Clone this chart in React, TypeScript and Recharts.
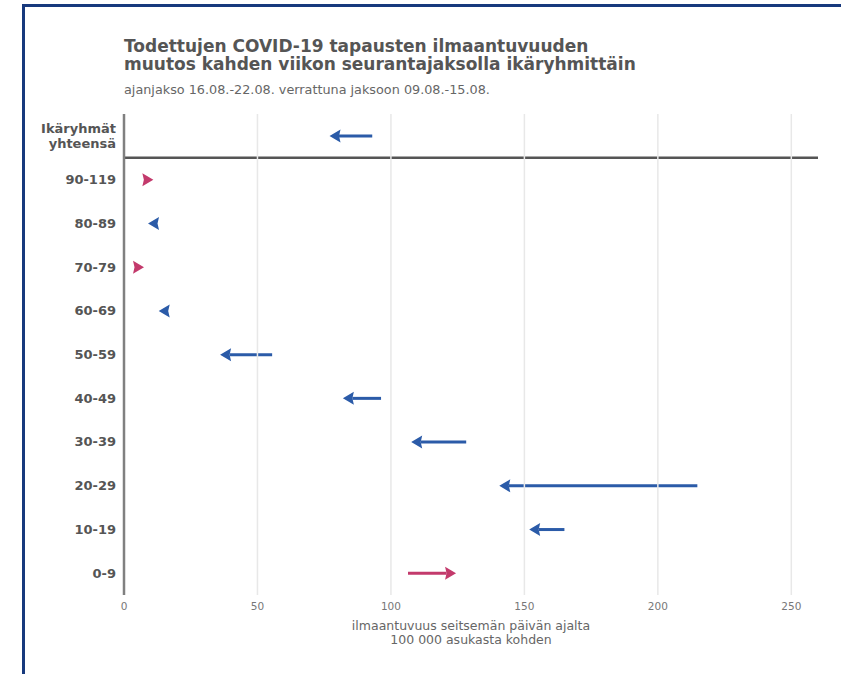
import { Bar, ComposedChart, ReferenceArea, ReferenceLine, XAxis, YAxis } from "recharts";

// ikäryhmät ylhäältä alas
const groups = [
  "Ikäryhmät yhteensä",
  "90-119",
  "80-89",
  "70-79",
  "60-69",
  "50-59",
  "40-49",
  "30-39",
  "20-29",
  "10-19",
  "0-9",
];
// ilmaantuvuus 09.08.-15.08. (nuolen alku)
const previousWeek = [93, 8, 12.5, 4.5, 16.5, 55.5, 96.3, 128.2, 214.8, 165, 106.4];
// ilmaantuvuus 16.08.-22.08. (nuolen kärki)
const currentWeek = [77, 11, 9, 7.5, 13, 36, 82, 107.6, 140.6, 151.8, 124.4];
const xTicks = [0, 50, 100, 150, 200, 250];

const data = groups.map((group, i) => ({ group, prev: previousWeek[i], cur: currentWeek[i] }));

const FONT = "'DejaVu Sans', sans-serif";
const BLUE = "#2b5ba8";
const MAGENTA = "#c33a6c";

function ArrowShape(props: any) {
  const { x, y, width, height, payload } = props;
  const lo = Math.min(x, x + width);
  const hi = Math.max(x, x + width);
  const left = payload.cur < payload.prev;
  const tip = left ? lo : hi;
  const tail = left ? hi : lo;
  const dir = left ? -1 : 1;
  const cy = y + height / 2;
  const head = 11;
  const half = 6.5;
  const base = tip - dir * head;
  const notch = tip - dir * (head - 1.5);
  const color = left ? BLUE : MAGENTA;
  return (
    <g>
      {Math.abs(tip - tail) > head && (
        <line x1={tail} y1={cy} x2={notch} y2={cy} stroke={color} strokeWidth={3} />
      )}
      <path
        d={`M${tip},${cy} L${base},${cy - half} L${notch},${cy} L${base},${cy + half} Z`}
        fill={color}
      />
    </g>
  );
}

function GroupTick(props: any) {
  const { x, y, payload } = props;
  const lines = String(payload.value).split(" ");
  const start = -((lines.length - 1) * 15) / 2;
  return (
    <text x={x} y={y} textAnchor="end" fill="#555" fontFamily={FONT} fontWeight="bold" fontSize={13}>
      {lines.map((l, i) => (
        <tspan key={l} x={x} dy={i === 0 ? start + 4.5 : 15}>
          {l}
        </tspan>
      ))}
    </text>
  );
}

export default function App() {
  return (
    <div
      style={{
        position: "absolute",
        left: 0,
        top: 0,
        width: 841,
        height: 674,
        background: "#fff",
        overflow: "hidden",
        fontFamily: FONT,
      }}
    >
      <div
        style={{
          position: "absolute",
          left: 22,
          top: 4,
          right: 0,
          bottom: 0,
          borderTop: "3px solid #17397d",
          borderLeft: "3px solid #17397d",
        }}
      />
      <div
        style={{
          position: "absolute",
          left: 124,
          top: 37,
          fontSize: 17,
          lineHeight: "18px",
          fontWeight: "bold",
          color: "#555",
          whiteSpace: "nowrap",
        }}
      >
        Todettujen COVID-19 tapausten ilmaantuvuuden
        <br />
        muutos kahden viikon seurantajaksolla ikäryhmittäin
      </div>
      <div
        style={{
          position: "absolute",
          left: 124,
          top: 83,
          fontSize: 12.8,
          lineHeight: "14px",
          color: "#666",
          whiteSpace: "nowrap",
        }}
      >
        ajanjakso 16.08.-22.08. verrattuna jaksoon 09.08.-15.08.
      </div>

      <div style={{ position: "absolute", left: 0, top: 0 }}>
        <ComposedChart
          width={841}
          height={674}
          data={data}
          layout="vertical"
          margin={{ top: 114, right: 23, bottom: 49, left: 24 }}
        >
          <XAxis
            type="number"
            domain={[0, 260]}
            ticks={xTicks}
            axisLine={false}
            tickLine={false}
            height={30}
            tick={{ fill: "#777", fontSize: 10.5, fontFamily: FONT }}
          />
          <YAxis
            type="category"
            dataKey="group"
            width={100}
            axisLine={{ stroke: "#808080", strokeWidth: 2.5 }}
            tickLine={false}
            tick={<GroupTick />}
            interval={0}
          />
          {xTicks.slice(1).map((t) => (
            <ReferenceLine key={t} x={t} stroke="#e8e8e8" strokeWidth={1.5} />
          ))}
          <ReferenceArea
            y1={groups[0]}
            y2={groups[0]}
            ifOverflow="visible"
            shape={(p: any) => (
              <line
                x1={p.x - 1}
                x2={p.x + p.width}
                y1={p.y + p.height}
                y2={p.y + p.height}
                stroke="#555"
                strokeWidth={2.5}
              />
            )}
          />
          <Bar
            dataKey={(d: any) => [d.prev, d.cur]}
            barSize={12}
            shape={<ArrowShape />}
            isAnimationActive={false}
          />
        </ComposedChart>
      </div>

      <div
        style={{
          position: "absolute",
          left: 221,
          width: 500,
          top: 619,
          textAlign: "center",
          fontSize: 12.5,
          lineHeight: "14px",
          color: "#666",
        }}
      >
        ilmaantuvuus seitsemän päivän ajalta
        <br />
        100 000 asukasta kohden
      </div>
    </div>
  );
}
